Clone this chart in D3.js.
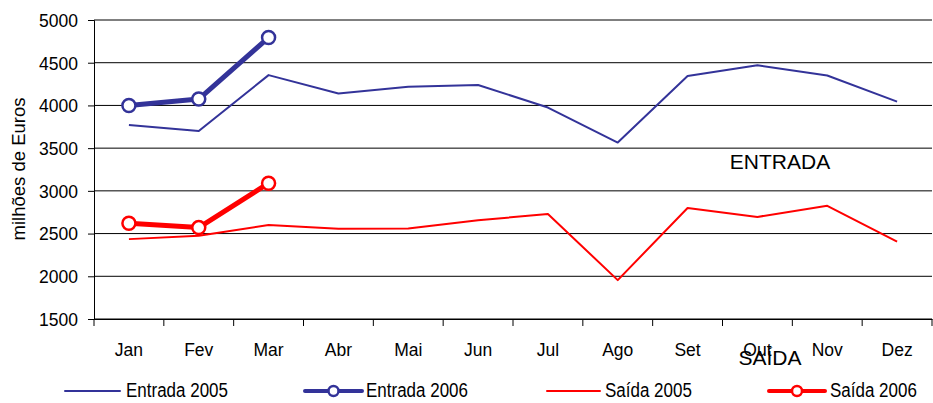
<!DOCTYPE html>
<html>
<head>
<meta charset="utf-8">
<script src="https://cdn.jsdelivr.net/npm/d3@7"></script>
<style>
  body { margin: 0; background: #fff; }
  text { font-family: "Liberation Sans", Arial, sans-serif; fill: #000; }
</style>
</head>
<body>
<div id="chart"></div>
<script>
// data (milhões de Euros)
var months = ["Jan", "Fev", "Mar", "Abr", "Mai", "Jun", "Jul", "Ago", "Set", "Out", "Nov", "Dez"];
var entrada2005 = [3770, 3700, 4355, 4140, 4220, 4240, 3975, 3565, 4345, 4470, 4350, 4045];
var entrada2006 = [4000, 4075, 4795];
var saida2005 = [2435, 2475, 2600, 2555, 2560, 2655, 2730, 1955, 2800, 2695, 2825, 2405];
var saida2006 = [2620, 2570, 3090];
var yTicks = [1500, 2000, 2500, 3000, 3500, 4000, 4500, 5000];

var w = 933;
var h = 403;
var blue = "#333399";
var red = "#ff0000";

var svg = d3.select("#chart")
            .append("svg")
            .attr("width", w)
            .attr("height", h);

var x = d3.scaleBand()
          .domain(months)
          .range([94, 932]);

var y = d3.scaleLinear()
          .domain([1500, 5000])
          .range([319, 20]);

// gridlines
svg.append("g")
    .selectAll("line")
    .data(yTicks)
    .enter()
    .append("line")
    .attr("x1", 94)
    .attr("x2", 932)
    .attr("y1", function(d) { return y(d); })
    .attr("y2", function(d) { return y(d); })
    .attr("stroke", "#000")
    .attr("stroke-width", 1);

// y axis
var yAxis = svg.append("g")
    .attr("transform", "translate(94,0)")
    .call(d3.axisLeft(y).tickValues(yTicks).tickSize(6).tickPadding(10).tickFormat(d3.format("d")));
yAxis.select(".domain").attr("stroke", "#000");
yAxis.selectAll(".tick line").attr("stroke", "#000");
yAxis.selectAll("text")
    .attr("font-size", "17.5px")
    .attr("font-family", "Liberation Sans, Arial, sans-serif")
    .attr("fill", "#000")
    .attr("dy", "0.36em");

// x axis: labels at band centres, ticks at band edges
var xAxis = svg.append("g")
    .attr("transform", "translate(0,319)")
    .call(d3.axisBottom(x).tickSize(0).tickPadding(25));
xAxis.select(".domain").attr("stroke", "#000");
xAxis.selectAll("text")
    .attr("font-size", "17.5px")
    .attr("font-family", "Liberation Sans, Arial, sans-serif")
    .attr("fill", "#000");

var edges = months.map(function(m) { return x(m); }).concat([x.range()[1]]);
svg.append("g")
    .selectAll("line")
    .data(edges)
    .enter()
    .append("line")
    .attr("x1", function(d) { return d; })
    .attr("x2", function(d) { return d; })
    .attr("y1", 319)
    .attr("y2", 326)
    .attr("stroke", "#000");

// y title
svg.append("text")
    .attr("transform", "translate(25,169) rotate(-90)")
    .attr("text-anchor", "middle")
    .attr("font-size", "18.5px")
    .text("milhões de Euros");

var line = d3.line()
    .x(function(d, i) { return x(months[i]) + x.bandwidth() / 2; })
    .y(function(d) { return y(d); });

function drawSeries(values, color, width, markers) {
    svg.append("path")
        .datum(values)
        .attr("d", line)
        .attr("fill", "none")
        .attr("stroke", color)
        .attr("stroke-width", width)
        .attr("stroke-linejoin", "round");
    if (markers) {
        svg.append("g")
            .selectAll("circle")
            .data(values)
            .enter()
            .append("circle")
            .attr("cx", function(d, i) { return x(months[i]) + x.bandwidth() / 2; })
            .attr("cy", function(d) { return y(d); })
            .attr("r", 6.5)
            .attr("fill", "#fff")
            .attr("stroke", color)
            .attr("stroke-width", 2.5);
    }
}

drawSeries(entrada2005, blue, 2, false);
drawSeries(saida2005, red, 2, false);
drawSeries(entrada2006, blue, 5, true);
drawSeries(saida2006, red, 5, true);

// in-plot labels
svg.append("text")
    .attr("x", 780)
    .attr("y", 169)
    .attr("text-anchor", "middle")
    .attr("font-size", "21px")
    .text("ENTRADA");
svg.append("text")
    .attr("x", 770)
    .attr("y", 365)
    .attr("text-anchor", "middle")
    .attr("font-size", "21px")
    .text("SAÍDA");

// legend
var legend = [
    { name: "Entrada 2005", color: blue, x1: 65, x2: 120, width: 2, marker: false, tx: 126 },
    { name: "Entrada 2006", color: blue, x1: 305, x2: 362, width: 4, marker: true, tx: 366 },
    { name: "Saída 2005", color: red, x1: 547, x2: 600, width: 2, marker: false, tx: 605 },
    { name: "Saída 2006", color: red, x1: 769, x2: 825, width: 4, marker: true, tx: 830 }
];

var lg = svg.append("g")
    .selectAll("g")
    .data(legend)
    .enter()
    .append("g");

lg.append("line")
    .attr("x1", function(d) { return d.x1; })
    .attr("x2", function(d) { return d.x2; })
    .attr("y1", 391)
    .attr("y2", 391)
    .attr("stroke", function(d) { return d.color; })
    .attr("stroke-width", function(d) { return d.width; })
    .attr("stroke-linecap", "round");

lg.filter(function(d) { return d.marker; })
    .append("circle")
    .attr("cx", function(d) { return (d.x1 + d.x2) / 2; })
    .attr("cy", 391)
    .attr("r", 5)
    .attr("fill", "#fff")
    .attr("stroke", function(d) { return d.color; })
    .attr("stroke-width", 2.5);

lg.append("text")
    .attr("transform", function(d) { return "translate(" + d.tx + ",397) scale(1,1.15)"; })
    .attr("font-size", "17px")
    .text(function(d) { return d.name; });
</script>
</body>
</html>
